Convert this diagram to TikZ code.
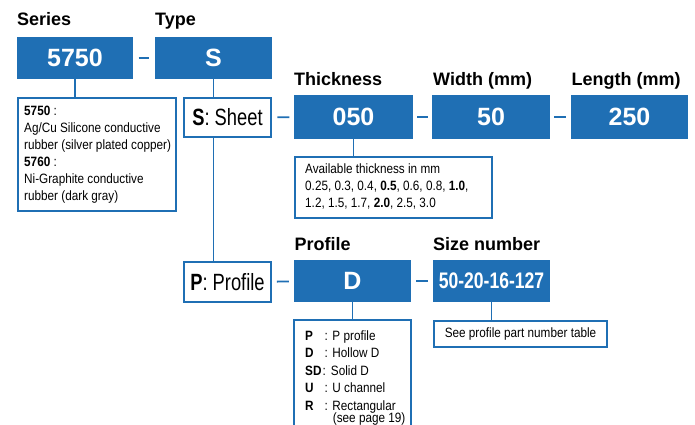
\documentclass[tikz,border=0pt]{standalone}
\usepackage{fontspec}
\setmainfont{Liberation Sans}
\newfontfamily\condfont{Liberation Sans}[FakeStretch=0.87]
\newfontfamily\bigcondfont{Liberation Sans}[FakeStretch=0.78]
\definecolor{pnblue}{RGB}{31,111,180}
\newcommand\plabel[2]{\makebox[#1][l]{\textbf{#2}}}
\tikzset{
  bluebox/.style={fill=pnblue, text=white, inner sep=0pt, minimum height=42pt,
    font=\bfseries\fontsize{25}{30}\selectfont},
  wbox/.style={draw=pnblue, line width=1.8pt, fill=white, inner sep=0pt},
  headlbl/.style={anchor=base west, inner sep=0pt, font=\bfseries\fontsize{18}{22}\selectfont},
  infotext/.style={anchor=base west, inner sep=0pt, font=\condfont\fontsize{13.5}{17}\selectfont},
  bigcond/.style={font=\bigcondfont\fontsize{23.5}{28}\selectfont},
  link/.style={draw=pnblue, line width=1.8pt},
}
\begin{document}
\begin{tikzpicture}[x=1pt,y=-1pt]
\useasboundingbox (0,0) rectangle (695,425);

% headings
\node[headlbl] (serieslbl) at (17,26) {Series};
\node[headlbl] (typelbl) at (155,26) {Type};
\node[headlbl] (thicklbl) at (294,86) {Thickness};
\node[headlbl] (widthlbl) at (433,86) {Width (mm)};
\node[headlbl] (lengthlbl) at (571.5,86) {Length (mm)};
\node[headlbl] (profilelbl) at (294.5,250) {Profile};
\node[headlbl] (sizelbl) at (433,250) {Size number};

% blue code boxes
\node[bluebox, minimum width=116pt] (series) at (75,58) {5750};
\node[bluebox, minimum width=117pt] (type) at (213.5,58) {S};
\node[bluebox, minimum width=119pt, minimum height=44pt] (thick) at (353.5,117) {050};
\node[bluebox, minimum width=118pt, minimum height=44pt] (width) at (491,117) {50};
\node[bluebox, minimum width=117pt, minimum height=44pt] (length) at (629.5,117) {250};
\node[bluebox, minimum width=117pt] (profile) at (352.5,281) {D};
\node[bluebox, minimum width=117pt, font=\bigcondfont\bfseries\fontsize{22.5}{26}\selectfont] (size) at (491.5,281) {50-20-16-127};

% white boxes
\node[wbox, minimum width=158pt, minimum height=113pt] (seriesinfo) at (97,154.5) {};
\node[infotext] (seriesinfotxt) at (24,115.5) {\begin{tabular}[t]{@{}l@{}}
\textbf{5750} :\\
Ag/Cu Silicone conductive\\
rubber (silver plated copper)\\
\textbf{5760} :\\
Ni-Graphite conductive\\
rubber (dark gray)\end{tabular}};

\node[wbox, bigcond, minimum width=87pt, minimum height=39pt] (sheet) at (227.5,117.5) {\textbf{S}: Sheet};
\node[wbox, bigcond, minimum width=87pt, minimum height=40pt] (pprof) at (227.5,282) {\textbf{P}: Profile};

\node[wbox, minimum width=197pt, minimum height=61pt] (thickinfo) at (393.5,187.5) {};
\node[infotext] (thickinfotxt) at (305,173.5) {\begin{tabular}[t]{@{}l@{}}
Available thickness in mm\\
0.25, 0.3, 0.4, \textbf{0.5}, 0.6, 0.8, \textbf{1.0},\\
1.2, 1.5, 1.7, \textbf{2.0}, 2.5, 3.0\end{tabular}};

\node[wbox, minimum width=173pt, minimum height=26pt, font=\condfont\fontsize{13.5}{17}\selectfont] (sizeinfo) at (520.5,334) {See profile part number table};

% profile info box (open at the bottom edge of the picture)
\draw[link] (294,432) -- (294,320) -- (411,320) -- (411,432);
\coordinate (profinfo) at (352.5,320);
\node[infotext, font=\condfont\fontsize{13.5}{17.5}\selectfont] (profinfotxt) at (305,340) {\begin{tabular}[t]{@{}l@{}}
\plabel{19.5pt}{P}:\hspace{4.5pt}P profile\\
\plabel{19.5pt}{D}:\hspace{4.5pt}Hollow D\\
\plabel{17.5pt}{SD}:\hspace{5pt}Solid D\\
\plabel{19.5pt}{U}:\hspace{4.5pt}U channel\\
\plabel{19.5pt}{R}:\hspace{4.5pt}Rectangular\\[-4.8pt]
\hspace{27.7pt}(see page 19)\end{tabular}};

% vertical connectors
\draw[link] (series.south) -- (series.south |- seriesinfo.north);
\draw[link] (type.south) -- (type.south |- sheet.north);
\draw[link] (type.south |- sheet.south) -- (type.south |- pprof.north);
\draw[link] (thick.south) -- (thick.south |- thickinfo.north);
\draw[link] (profile.south) -- (profinfo);
\draw[link] (size.south) -- (size.south |- sizeinfo.north);

% dashes between fields
\draw[link, shorten <=5.5pt, shorten >=5.5pt] (series) -- (type);
\draw[link, shorten <=5.5pt, shorten >=4.5pt] (sheet) -- (thick);
\draw[link, shorten <=4pt, shorten >=4pt] (thick) -- (width);
\draw[link, shorten <=4pt, shorten >=5pt] (width) -- (length);
\draw[link, shorten <=5pt, shorten >=5pt] (pprof) -- (profile);
\draw[link, shorten <=5pt, shorten >=5pt] (profile) -- (size);
\end{tikzpicture}
\end{document}
